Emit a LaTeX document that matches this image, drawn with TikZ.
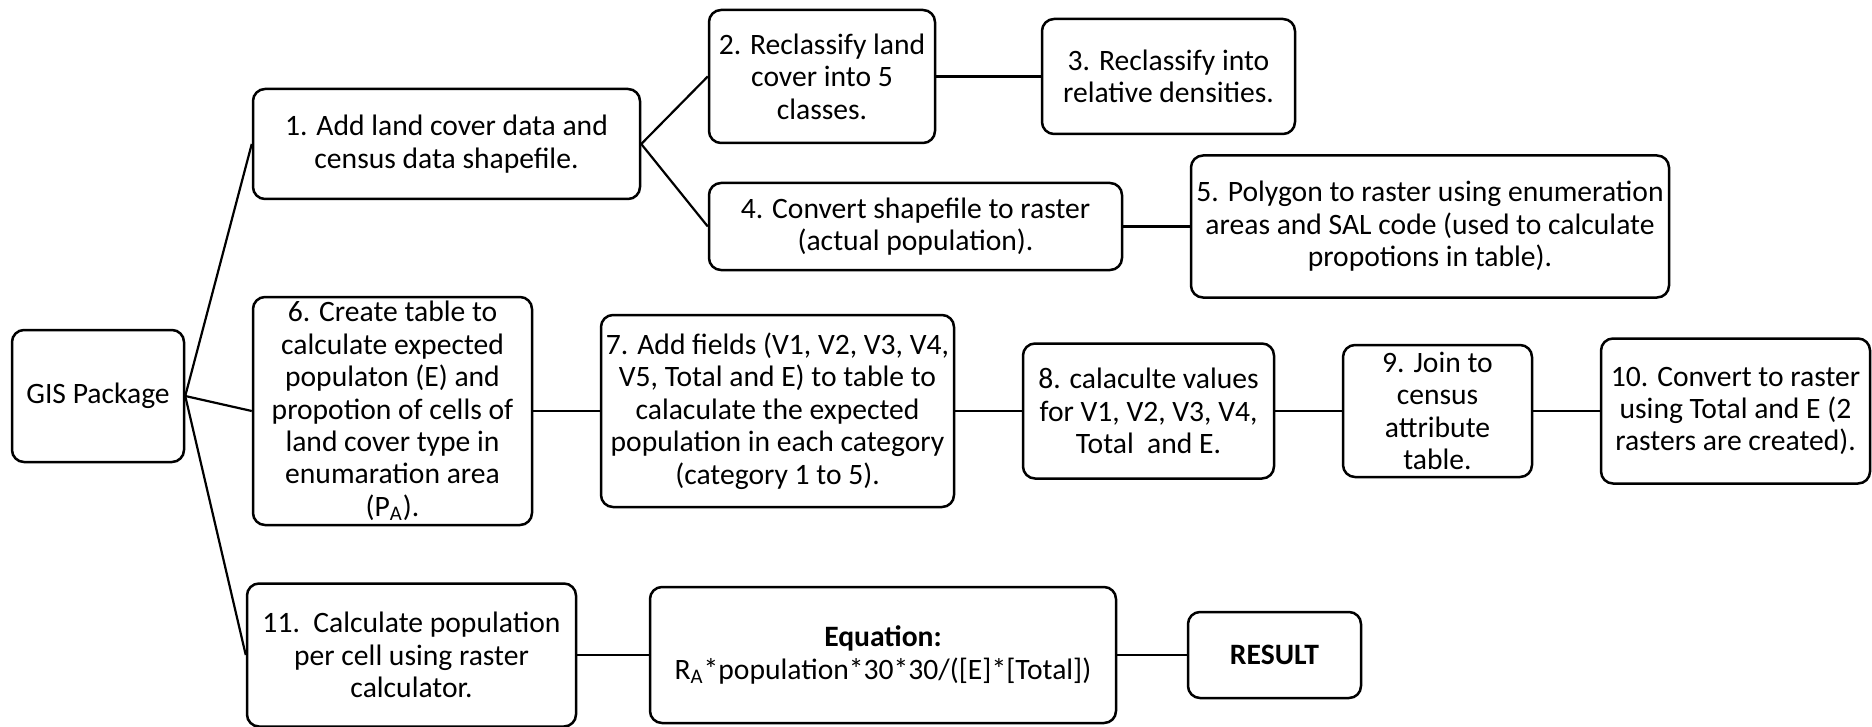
\documentclass[tikz,border=0pt]{standalone}
\usepackage{fontspec}
\setmainfont{Carlito}
\begin{document}
\begin{tikzpicture}[x=0.5pt,y=-0.5pt,
  box/.style={draw=black,line width=1.25pt,rounded corners=6pt,align=center,inner sep=0pt,fill=white,
    font=\fontsize{14.8}{16.2}\selectfont},
  link/.style={draw=black,line width=1.1pt}]
\useasboundingbox (0,0) rectangle (1872,727);
\node[box,minimum width=86pt,minimum height=66pt] (gis) at (98,396) {GIS Package};
\node[box,minimum width=193.5pt,minimum height=55pt] (b1) at (446.5,144) {1. Add land cover data and\\census data shapefile.};
\node[box,minimum width=113pt,minimum height=66.5pt] (b2) at (822,76.5) {2. Reclassify land\\cover into 5\\classes.};
\node[box,minimum width=126.5pt,minimum height=57.5pt] (b3) at (1168.5,76.5) {3. Reclassify into\\relative densities.};
\node[box,minimum width=206.5pt,minimum height=43.5pt] (b4) at (915.5,226.5) {4. Convert shapefile to raster\\(actual population).};
\node[box,minimum width=239pt,minimum height=71pt] (b5) at (1430,226.5) {5. Polygon to raster using enumeration\\areas and SAL code (used to calculate\\propotions in table).};
\node[box,minimum width=139.5pt,minimum height=114pt] (b6) at (392.5,411) {6. Create table to\\calculate expected\\populaton (E) and\\propotion of cells of\\land cover type in\\enumaration area\\(P\textsubscript{A}).};
\node[box,minimum width=176.5pt,minimum height=96pt] (b7) at (777.5,411) {7. Add fields (V1, V2, V3, V4,\\V5, Total and E) to table to\\calaculate the expected\\population in each category\\(category 1 to 5).};
\node[box,minimum width=125.5pt,minimum height=67.5pt] (b8) at (1148.5,411) {8. calaculte values\\for V1, V2, V3, V4,\\Total\ \ and E.};
\node[box,minimum width=94.5pt,minimum height=66pt] (b9) at (1437.5,411) {9. Join to\\census\\attribute\\table.};
\node[box,minimum width=134.5pt,minimum height=72.5pt] (b10) at (1735.5,411) {10. Convert to raster\\using Total and E (2\\rasters are created).};
\node[box,minimum width=164.5pt,minimum height=71.5pt] (b11) at (411.5,655) {11.\ \ Calculate population\\per cell using raster\\calculator.};
\node[box,minimum width=233pt,minimum height=68pt] (eq) at (883,655) {\textbf{Equation:}\\R\textsubscript{A}*population*30*30/([E]*[Total])};
\node[box,minimum width=86.5pt,minimum height=43pt] (res) at (1274.5,655) {\textbf{RESULT}};
\draw[link] (gis.east) -- (b1.west);
\draw[link] (gis.east) -- (b6.west);
\draw[link] (gis.east) -- (b11.west);
\draw[link] (b1.east) -- (b2.west);
\draw[link] (b1.east) -- (b4.west);
\draw[link] (b2.east) -- (b3.west);
\draw[link] (b4.east) -- (b5.west);
\draw[link] (b6.east) -- (b7.west);
\draw[link] (b7.east) -- (b8.west);
\draw[link] (b8.east) -- (b9.west);
\draw[link] (b9.east) -- (b10.west);
\draw[link] (b11.east) -- (eq.west);
\draw[link] (eq.east) -- (res.west);
\end{tikzpicture}
\end{document}
